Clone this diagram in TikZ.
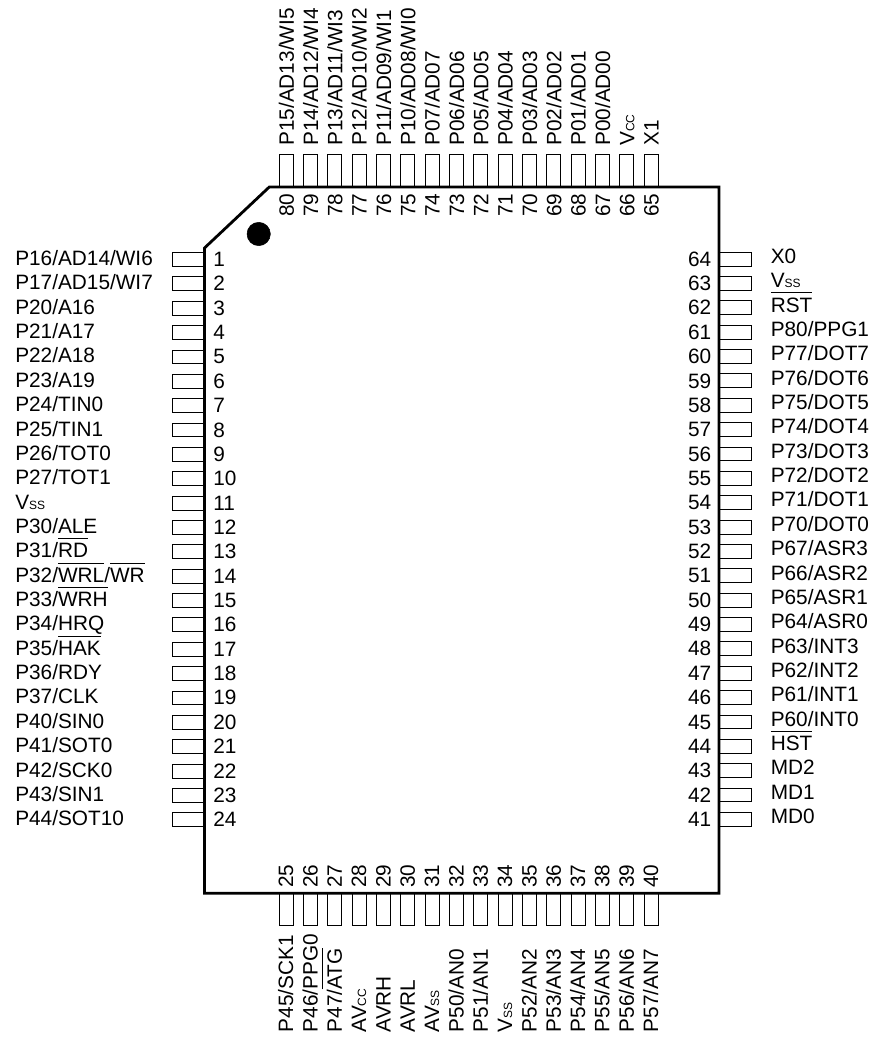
\documentclass[tikz,border=0pt]{standalone}
\usepackage{fontspec}
\setmainfont{Liberation Sans}
\newcommand{\ovl}[1]{\setbox0\hbox{#1}\rlap{\rule[14pt]{\wd0}{0.7pt}}\box0}
\newcommand{\lowtxt}[1]{{\fontsize{9}{9}\selectfont #1}}
\begin{document}
\begin{tikzpicture}[x=0.75pt,y=-0.75pt]
	\tikzstyle{leadh} = [draw, rectangle, inner sep=0pt, line width=0.75pt, minimum width=24.6pt, minimum height=10.4pt]
	\tikzstyle{leadv} = [draw, rectangle, inner sep=0pt, line width=0.75pt, minimum width=10.4pt, minimum height=24.6pt]
	\tikzstyle{txt} = [inner sep=0pt, anchor=base west, font=\fontsize{15.6}{18}\selectfont]
	\tikzstyle{txtup} = [txt, rotate=90]
	\useasboundingbox (0,0) rectangle (873,1038);
	% left side
	\foreach \name [count=\n, evaluate=\n as \y using 259.5+24.36*(\n-1), evaluate=\n as \yb using 265.5+24.36*(\n-1), evaluate=\n as \yc using 266.5+24.36*(\n-1)] in {P16/AD14/WI6, P17/AD15/WI7, P20/A16, P21/A17, P22/A18, P23/A19, P24/TIN0, P25/TIN1, P26/TOT0, P27/TOT1, V\lowtxt{SS}, P30/ALE, P31/\ovl{RD}, P32/\ovl{WRL}/\ovl{WR}, P33/\ovl{WRH}, P34/HRQ, P35/\ovl{HAK}, P36/RDY, P37/CLK, P40/SIN0, P41/SOT0, P42/SCK0, P43/SIN1, P44/SOT10} {
		\node[leadh] (lead\n) at (188.5,\y) {};
		\node[txt] (name\n) at (15,\yb) {\name};
		\node[txt] (num\n) at (213,\yc) {\n};
	}
	% right side
	\foreach \name [count=\n from 41, evaluate=\n as \y using 819.4-24.36*(\n-41), evaluate=\n as \yb using 823.6-24.36*(\n-41), evaluate=\n as \yc using 826.5-24.36*(\n-41)] in {MD0, MD1, MD2, \ovl{HST}, P60/INT0, P61/INT1, P62/INT2, P63/INT3, P64/ASR0, P65/ASR1, P66/ASR2, P67/ASR3, P70/DOT0, P71/DOT1, P72/DOT2, P73/DOT3, P74/DOT4, P75/DOT5, P76/DOT6, P77/DOT7, P80/PPG1, \ovl{RST}, V\lowtxt{SS}, X0} {
		\node[leadh] (lead\n) at (735.25,\y) {};
		\node[txt] (name\n) at (770.5,\yb) {\name};
		\node[txt, anchor=base east] (num\n) at (711.5,\yc) {\n};
	}
	% bottom side
	\foreach \name [count=\n from 25, evaluate=\n as \x using 286.2+24.33*(\n-25), evaluate=\n as \xb using 293.2+24.33*(\n-25)] in {P45/SCK1, P46/PPG0, P47/\ovl{ATG}, AV\lowtxt{CC}, AVRH, AVRL, AV\lowtxt{SS}, P50/AN0, P51/AN1, V\lowtxt{SS}, P52/AN2, P53/AN3, P54/AN4, P55/AN5, P56/AN6, P57/AN7} {
		\node[leadv] (lead\n) at (\x,909.5) {};
		\node[txtup] (name\n) at (\xb,1032.5) {\name};
		\node[txtup] (num\n) at (\xb,888) {\n};
	}
	% top side
	\foreach \name [count=\n from 65, evaluate=\n as \x using 651.2-24.33*(\n-65), evaluate=\n as \xb using 658.7-24.33*(\n-65)] in {X1, V\lowtxt{CC}, P00/AD00, P01/AD01, P02/AD02, P03/AD03, P04/AD04, P05/AD05, P06/AD06, P07/AD07, P10/AD08/WI0, P11/AD09/WI1, P12/AD10/WI2, P13/AD11/WI3, P14/AD12/WI4, P15/AD13/WI5} {
		\node[leadv] (lead\n) at (\x,171) {};
		\node[txtup] (name\n) at (\xb,146) {\name};
		\node[txtup] (num\n) at (\xb,217) {\n};
	}
	% package outline
	\draw[line width=2.1pt, fill=none] (269.3,187) -- (719,187) -- (719,893.3) -- (204.5,893.3) -- (204.5,248) -- cycle;
	\node[draw, circle, fill=black, inner sep=0pt, minimum size=17.5pt] (dot) at (258.7,234) {};
\end{tikzpicture}
\end{document}
